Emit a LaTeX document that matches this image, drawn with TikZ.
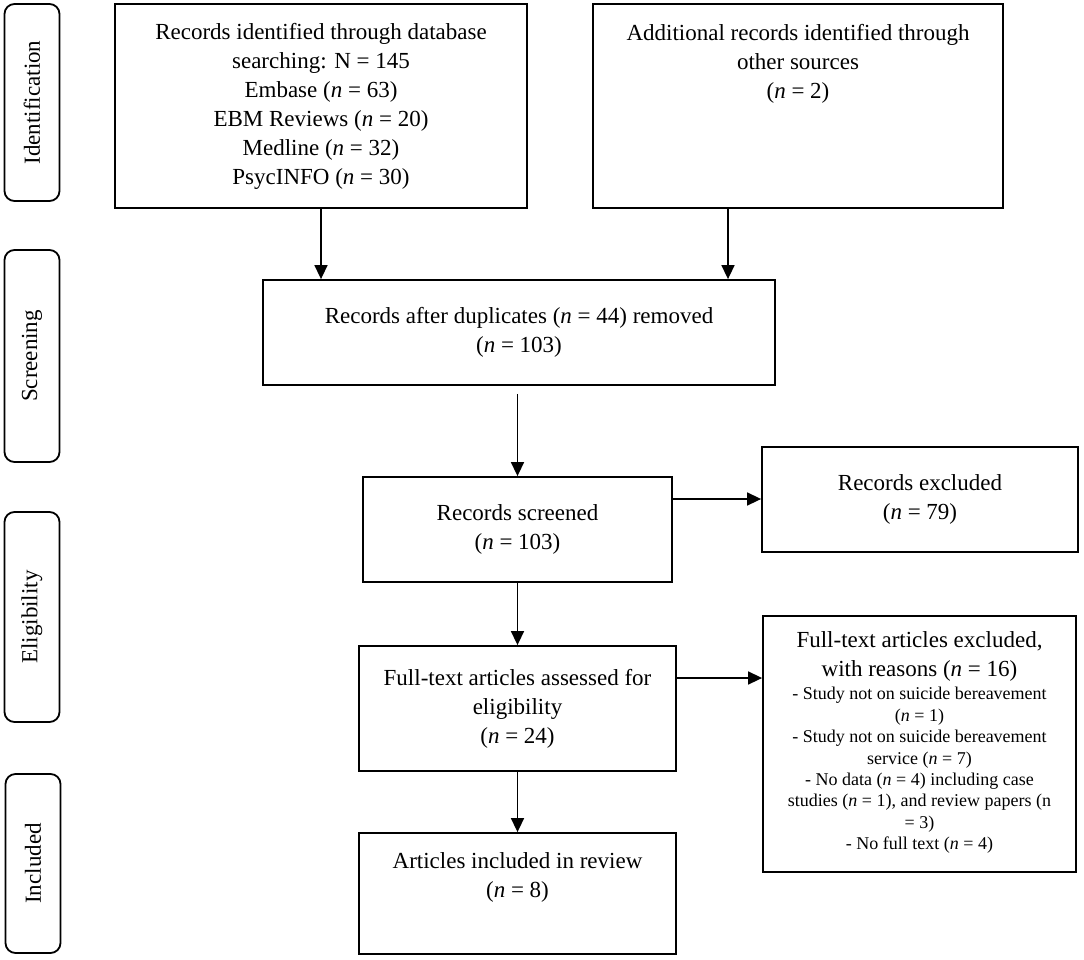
\documentclass[tikz,border=0pt]{standalone}
\usepackage{fontspec}
\setmainfont{Liberation Serif}
\usetikzlibrary{arrows.meta}
\newcommand{\smalltxt}{\fontsize{18}{21.4}\selectfont}
\begin{document}
\begin{tikzpicture}[x=1pt,y=-1pt,
  box/.style={draw,line width=1.8pt,align=center,inner sep=4pt,font=\fontsize{23}{29}\selectfont},
  phase/.style={draw,line width=1.8pt,rounded corners=10pt,rotate=90,minimum height=55pt,font=\fontsize{23}{29}\selectfont},
  arr/.style={line width=1.5pt,-{Triangle[length=14pt,width=13pt]}}]
\useasboundingbox (0,0) rectangle (1084,959);
% phases on the left
\node[phase, minimum width=197pt] (p1) at (32,102.5) {Identification};
\node[phase, minimum width=212pt] (p2) at (32,356) {Screening};
\node[phase, minimum width=210pt] (p3) at (32,617) {Eligibility};
\node[phase, minimum width=179pt] (p4) at (33,863.5) {Included};
% boxes
\node[box, minimum width=412pt, minimum height=204pt] (db) at (321,106) {Records identified through database\\searching: N = 145\\Embase (\textit{n} = 63)\\EBM Reviews (\textit{n} = 20)\\Medline (\textit{n} = 32)\\PsycINFO (\textit{n} = 30)};
\node[box, minimum width=410pt, minimum height=204pt, text depth=89pt] (other) at (798,106) {Additional records identified through\\other sources\\(\textit{n} = 2)};
\node[box, minimum width=512pt, minimum height=105pt] (dup) at (519,332.5) {Records after duplicates (\textit{n} = 44) removed\\(\textit{n} = 103)};
\node[box, minimum width=309pt, minimum height=105pt] (screen) at (517.5,529.5) {Records screened\\(\textit{n} = 103)};
\node[box, minimum width=316pt, minimum height=105pt] (excl) at (920,499.5) {Records excluded\\(\textit{n} = 79)};
\node[box, minimum width=317pt, minimum height=125pt] (assess) at (517.5,708.5) {Full-text articles assessed for\\eligibility\\(\textit{n} = 24)};
\node[box, minimum width=313pt, minimum height=256pt] (fullex) at (919.5,744) {Full-text articles excluded,\\with reasons (\textit{n} = 16)\\[-6pt]
  \smalltxt\begin{tabular}[t]{@{}c@{}}- Study not on suicide bereavement\\(\textit{n} = 1)\\- Study not on suicide bereavement\\service (\textit{n} = 7)\\- No data (\textit{n} = 4) including case\\studies (\textit{n} = 1), and review papers (n\\= 3)\\- No full text (\textit{n} = 4)\end{tabular}};
\node[box, minimum width=317pt, minimum height=121pt, text depth=36pt] (incl) at (517.5,893.5) {Articles included in review\\(\textit{n} = 8)};
% arrows
\path[draw,arr] (db.south) -- (db.south |- dup.north);
\path[draw,arr] ([xshift=-70pt]other.south) -- ([xshift=-70pt]other.south |- dup.north);
\path[draw,arr] ([yshift=-8pt]screen.north |- dup.south) -- (screen.north);
\path[draw,arr] ([yshift=30.5pt]screen.east) -- ([yshift=30.5pt]screen.east -| excl.west);
\path[draw,arr] (screen) -- (assess);
\path[draw,arr] ([yshift=30.5pt]assess.east) -- ([yshift=30.5pt]assess.east -| fullex.west);
\path[draw,arr] (assess) -- (incl);
\end{tikzpicture}
\end{document}
